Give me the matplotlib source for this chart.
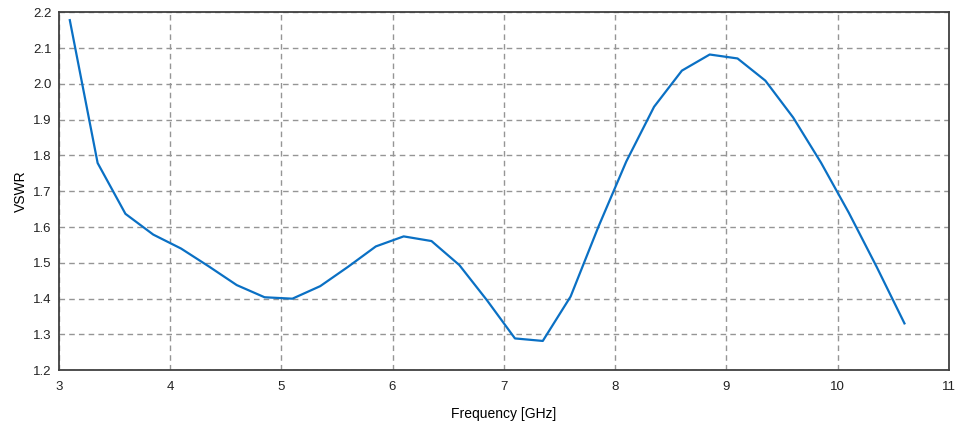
import numpy as np
import matplotlib.pyplot as plt

plt.rcParams['font.family'] = ['Liberation Sans', 'DejaVu Sans']

freq = [3.1, 3.35, 3.6, 3.85, 4.1, 4.35, 4.6, 4.85, 5.1, 5.35, 5.6,
        5.85, 6.1, 6.35, 6.6, 6.85, 7.1, 7.35, 7.6, 7.85, 8.1, 8.35,
        8.6, 8.85, 9.1, 9.35, 9.6, 9.85, 10.1, 10.35, 10.6]
vswr = [2.178, 1.779, 1.637, 1.579, 1.540, 1.490, 1.438, 1.404, 1.400,
        1.435, 1.489, 1.546, 1.574, 1.561, 1.494, 1.395, 1.289, 1.282,
        1.406, 1.601, 1.783, 1.936, 2.037, 2.082, 2.071, 2.009, 1.906,
        1.780, 1.640, 1.489, 1.331]

fig = plt.figure(figsize=(9.65, 4.23), dpi=100)
ax = fig.add_axes([0.0608, 0.1246, 0.9226, 0.8464])

ax.plot(freq, vswr, color='#0a70c4', linewidth=1.6)

ax.set_xlim(3, 11)
ax.set_ylim(1.2, 2.2)
ax.set_xticks(np.arange(3, 12, 1))
ax.set_yticks(np.arange(1.2, 2.25, 0.1))
ax.set_yticklabels([f"{v:.1f}" for v in np.arange(1.2, 2.25, 0.1)])
ax.grid(True, color='#959595', linestyle=(0, (4, 3)), linewidth=1.0)

for sp in ax.spines.values():
    sp.set_color('#404040')
    sp.set_linewidth(1.3)
ax.tick_params(axis='y', length=0, labelsize=9.5, pad=5, colors='#222222')
ax.tick_params(axis='x', length=0, labelsize=9.5, pad=8, colors='#222222')

ax.set_xlabel("Frequency [GHz]", fontsize=10, labelpad=10)
ax.set_ylabel("VSWR", fontsize=10, labelpad=4)

fig.savefig("out.png", dpi=100)
